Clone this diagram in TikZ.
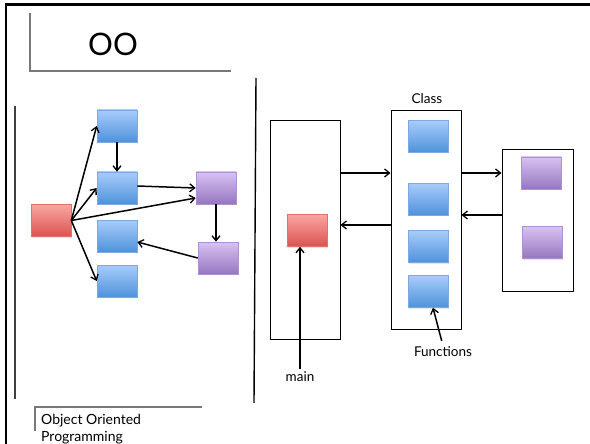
\documentclass[tikz,border=0pt]{standalone}
\usepackage{fontspec}
\setmainfont{Lato}
\usetikzlibrary{arrows.meta,shadows}

\definecolor{bluetop}{RGB}{168,204,250}
\definecolor{bluebot}{RGB}{78,146,220}
\definecolor{blueline}{RGB}{125,168,225}
\definecolor{redtop}{RGB}{249,166,162}
\definecolor{redbot}{RGB}{220,82,78}
\definecolor{redline}{RGB}{226,112,108}
\definecolor{purtop}{RGB}{216,194,242}
\definecolor{purbot}{RGB}{150,118,192}
\definecolor{purline}{RGB}{172,146,208}
\definecolor{rulegray}{RGB}{120,120,120}

\tikzset{
  tile/.style={minimum width=40pt, minimum height=32pt, inner sep=0pt,
    line width=0.6pt, drop shadow={shadow xshift=1pt, shadow yshift=-1pt, opacity=.2}},
  bluebox/.style={tile, draw=blueline, top color=bluetop, bottom color=bluebot},
  redbox/.style={tile, draw=redline, top color=redtop, bottom color=redbot},
  purbox/.style={tile, draw=purline, top color=purtop, bottom color=purbot},
  frame/.style={draw=black, line width=0.9pt, inner sep=0pt},
  link/.style={-{Straight Barb[length=5pt,width=8pt,line width=1.3pt]}, line width=1.5pt},
  lbl/.style={font=\fontsize{13.5}{15}\selectfont, inner sep=1pt}
}

\begin{document}
\begin{tikzpicture}[x=1pt,y=-1pt]
\useasboundingbox (0,0) rectangle (590,444);

% page edges
\draw[line width=2.4pt] (6,444) -- (6,4.5) -- (591,4.5);

% title bracket
\draw[rulegray, line width=1.2pt] (30,13) -- (30,71) -- (231,71);
\node[font=\fontsize{31}{34}\selectfont, inner sep=0pt] (title) at (113,44) {OO};

% panel separators
\draw[black!75, line width=1.2pt] (15,106) -- (15,399);
\draw[black, line width=1.4pt] (256,78) -- (254,403);

% caption bracket
\draw[rulegray, line width=1.2pt] (35,431) -- (35,407) -- (202,407);
\node[lbl, anchor=west, align=left, font=\fontsize{14}{17}\selectfont] (caption) at (40,429) {Object Oriented\\Programming};

% ---- left: procedural web ----
\node[redbox] (r) at (51,220.5) {};
\node[bluebox] (b1) at (117,126) {};
\node[bluebox] (b2) at (117,188) {};
\node[bluebox] (b3) at (117,236) {};
\node[bluebox] (b4) at (117,281) {};
\node[purbox] (p1) at (216,188) {};
\node[purbox] (p2) at (218,258) {};

\draw[link] (r.east) -- (b1.west);
\draw[link] (r.east) -- (b2.west);
\draw[link] (r.east) -- ([yshift=-10pt]p1.west);
\draw[link] (r.east) -- (b4.west);
\draw[link] (b1.south) -- (b2.north);
\draw[link] ([yshift=2pt]b2.east) -- (p1.west);
\draw[link] (p1.south) -- (p1.south |- p2.north);
\draw[link] (p2.west) -- ([yshift=-6pt]b3.east);

% ---- right: object oriented ----
\node[frame, minimum width=70pt, minimum height=219pt] (mainbox) at (305,229.5) {};
\node[frame, minimum width=70pt, minimum height=219pt] (classbox) at (426,219.5) {};
\node[frame, minimum width=71pt, minimum height=142pt] (objbox) at (537.5,220) {};

\node[redbox] (mr) at (307,230.5) {};
\node[bluebox] (c1) at (428,136.5) {};
\node[bluebox] (c2) at (428,199) {};
\node[bluebox] (c3) at (428,246.5) {};
\node[bluebox] (c4) at (428,291.5) {};
\node[purbox] (q1) at (541,173) {};
\node[purbox] (q2) at (542,242.5) {};

\node[lbl] (classlbl) at (427,99) {Class};
\node[lbl] (mainlbl) at (300,377) {main};
\node[lbl] (fnlbl) at (443,352) {Functions};

\draw[link] (mainbox.east |- q1) -- (classbox.west |- q1);
\draw[link] ([yshift=5.5pt]classbox.west |- mr) -- ([yshift=5.5pt]mainbox.east |- mr);
\draw[link] (classbox.east |- q1) -- (objbox.west |- q1);
\draw[link] ([yshift=5pt]objbox.west) -- ([yshift=5pt]classbox.east |- objbox);

\draw[link, shorten <=2pt] (mainlbl.north) -- (mainlbl.north |- mr.south);
\draw[link, shorten <=5pt] (fnlbl.north) -- ([xshift=5pt]c4.south);
\end{tikzpicture}
\end{document}
